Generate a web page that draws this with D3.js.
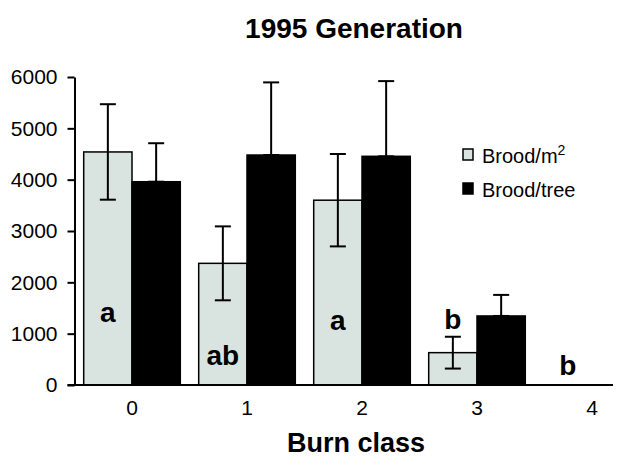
<!DOCTYPE html>
<html lang="en">
<head>
    <meta charset="utf-8">
    <title>1995 Generation</title>
    <script type="text/javascript" src="https://cdnjs.cloudflare.com/ajax/libs/d3/7.8.5/d3.min.js"></script>
    <style>
      body { margin: 0; background: #fff; }
      text { font-family: "Liberation Sans", Arial, sans-serif; fill: #000; }
    </style>
</head>
<body>
    <script type="text/javascript">
      //data
      var burnClasses = ["0", "1", "2", "3", "4"];
      var broodM2 = [4540, 2370, 3600, 630, 0];
      var broodM2Err = [930, 720, 900, 310, 0];
      var broodTree = [3960, 4480, 4455, 1345, 0];
      var broodTreeErr = [750, 1415, 1465, 410, 0];
      var sigLabels = ["a", "ab", "a", "b", "b"];
      var sigLabelY = [1230, 390, 1070, 1090, 195];
      var yTicks = [0, 1000, 2000, 3000, 4000, 5000, 6000];

      var width = 618, height = 468;
      var lightFill = "#d9e4e0";

      var svg = d3.select("body")
                  .append("svg")
                  .attr("width", width)
                  .attr("height", height);

      //scales
      var x = d3.scaleBand()
                .domain(burnClasses)
                .range([74.5, 649.5])
                .paddingInner(0.16)
                .paddingOuter(0.08);

      var y = d3.scaleLinear()
                .domain([0, 6000])
                .range([385, 77]);

      var barW = x.bandwidth() / 2;

      //title
      svg.append("text")
         .attr("x", 354)
         .attr("y", 38)
         .attr("text-anchor", "middle")
         .style("font-size", "28px")
         .style("font-weight", "bold")
         .text("1995 Generation");

      //bars
      var groups = svg.selectAll(".grp")
                      .data(burnClasses)
                      .enter().append("g")
                      .attr("class", "grp")
                      .attr("transform", function(d) { return "translate(" + x(d) + ",0)"; });

      groups.filter(function(d, i) { return broodM2[i] > 0; })
            .append("rect")
            .attr("x", 0)
            .attr("y", function(d) { return y(broodM2[burnClasses.indexOf(d)]); })
            .attr("width", barW)
            .attr("height", function(d) { return y(0) - y(broodM2[burnClasses.indexOf(d)]); })
            .attr("fill", lightFill)
            .attr("stroke", "#000")
            .attr("stroke-width", 1.5);

      groups.filter(function(d, i) { return broodTree[i] > 0; })
            .append("rect")
            .attr("x", barW)
            .attr("y", function(d) { return y(broodTree[burnClasses.indexOf(d)]); })
            .attr("width", barW)
            .attr("height", function(d) { return y(0) - y(broodTree[burnClasses.indexOf(d)]); })
            .attr("fill", "#000")
            .attr("stroke", "#000")
            .attr("stroke-width", 1.5);

      //error bars: full for brood/m2, upper only for brood/tree
      function errorBar(g, cx, top, bottom) {
        g.append("line")
         .attr("x1", cx).attr("x2", cx)
         .attr("y1", top).attr("y2", bottom)
         .attr("stroke", "#000").attr("stroke-width", 2);
        [top, bottom].forEach(function(yy) {
          g.append("line")
           .attr("x1", cx - 8).attr("x2", cx + 8)
           .attr("y1", yy).attr("y2", yy)
           .attr("stroke", "#000").attr("stroke-width", 2);
        });
      }

      groups.each(function(d, i) {
        var g = d3.select(this);
        if (broodM2[i] > 0)
          errorBar(g, barW / 2, y(broodM2[i] + broodM2Err[i]), y(broodM2[i] - broodM2Err[i]));
        if (broodTree[i] > 0)
          errorBar(g, barW * 1.5, y(broodTree[i] + broodTreeErr[i]), y(broodTree[i]));
      });

      //significance letters
      groups.append("text")
            .attr("x", barW / 2)
            .attr("y", function(d, i) { return y(sigLabelY[i]); })
            .attr("text-anchor", "middle")
            .style("font-size", "28px")
            .style("font-weight", "bold")
            .text(function(d, i) { return sigLabels[i]; });

      //y axis
      var yAxis = d3.axisLeft(y)
                    .tickValues(yTicks)
                    .tickFormat(d3.format("d"))
                    .tickSize(7)
                    .tickSizeOuter(0)
                    .tickPadding(10);

      var gy = svg.append("g")
                  .attr("transform", "translate(" + x.range()[0] + ",0)")
                  .call(yAxis);
      gy.selectAll("text").style("font-size", "21px");
      gy.selectAll("line, path").attr("stroke", "#000").attr("stroke-width", 2);

      //x axis
      var xAxis = d3.axisBottom(x).tickSize(0).tickPadding(15);
      var gx = svg.append("g")
                  .attr("transform", "translate(0," + y(0) + ")")
                  .call(xAxis);
      gx.select(".domain").remove();
      gx.selectAll("text").style("font-size", "21px");

      svg.append("line")
         .attr("x1", x.range()[0] - 7)
         .attr("x2", 613)
         .attr("y1", y(0))
         .attr("y2", y(0))
         .attr("stroke", "#000")
         .attr("stroke-width", 2);

      //x axis title
      svg.append("text")
         .attr("x", 356)
         .attr("y", 452)
         .attr("text-anchor", "middle")
         .style("font-size", "27px")
         .style("font-weight", "bold")
         .text("Burn class");

      //legend
      var legend = svg.append("g").attr("transform", "translate(462,148)");
      var legendItems = [
        {fill: lightFill, label: "Brood/m", sup: "2"},
        {fill: "#000", label: "Brood/tree", sup: null}
      ];
      legendItems.forEach(function(item, i) {
        var row = legend.append("g").attr("transform", "translate(0," + (i * 34) + ")");
        row.append("rect")
           .attr("x", 1).attr("y", 1)
           .attr("width", 10).attr("height", 11)
           .attr("fill", item.fill)
           .attr("stroke", "#000")
           .attr("stroke-width", 1.5);
        var t = row.append("text")
                   .attr("x", 20)
                   .attr("y", 15)
                   .style("font-size", "20px")
                   .text(item.label);
        if (item.sup) {
          t.append("tspan")
           .attr("dy", -8)
           .style("font-size", "14px")
           .text(item.sup);
        }
      });
    </script>
</body>
</html>
